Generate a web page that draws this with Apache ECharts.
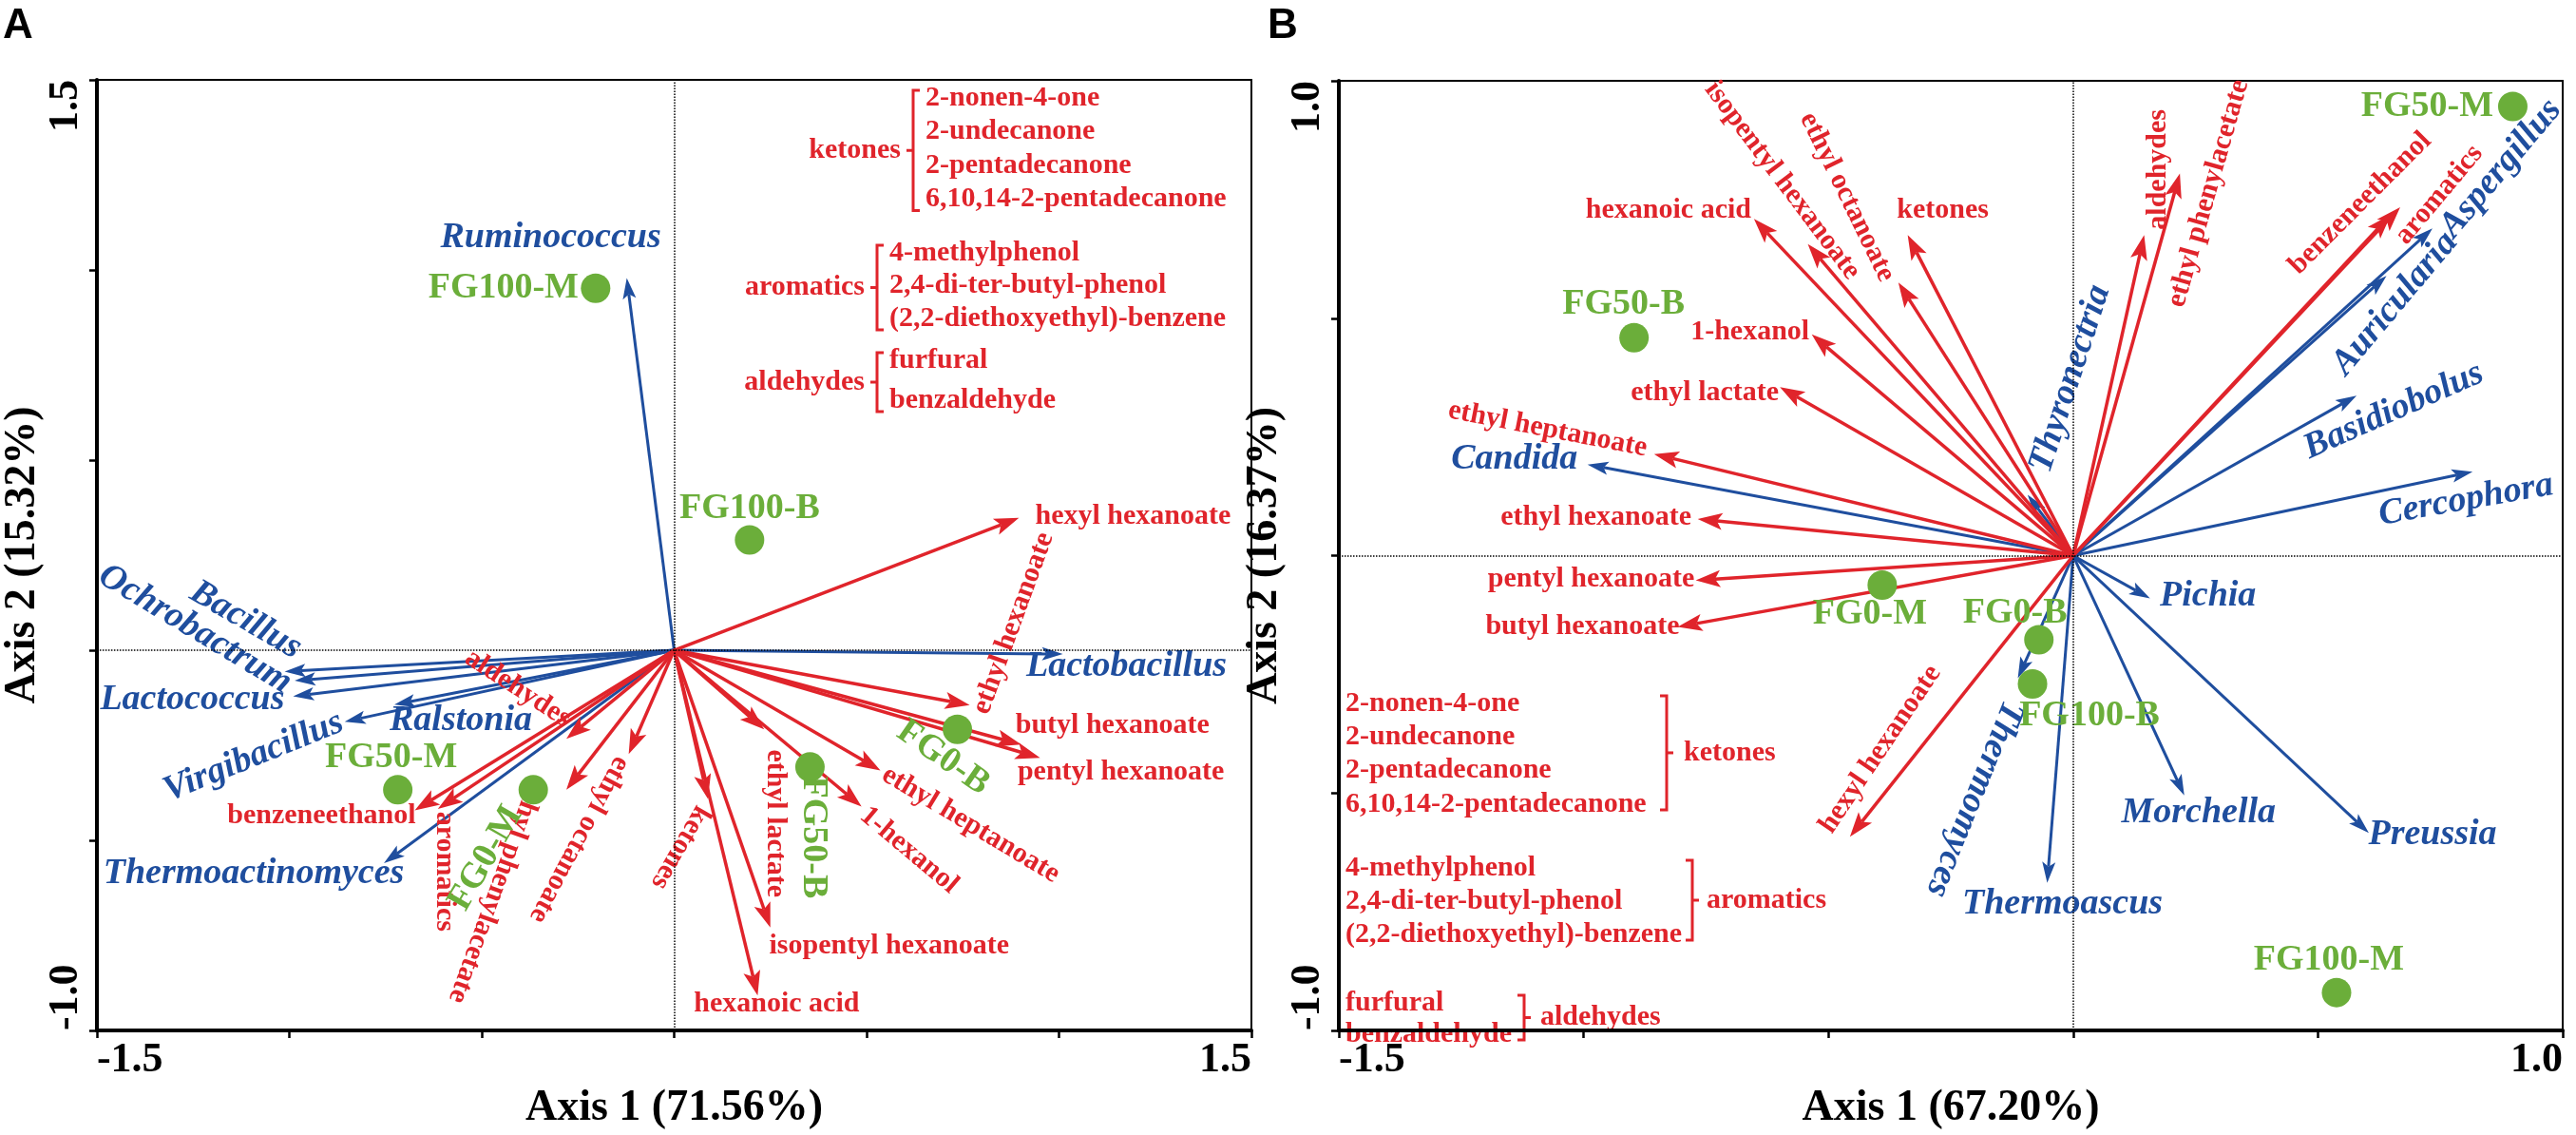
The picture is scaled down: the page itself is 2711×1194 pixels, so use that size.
<!DOCTYPE html>
<html><head><meta charset="utf-8">
<script src="https://cdn.jsdelivr.net/npm/echarts@6/dist/echarts.min.js"></script>
<style>html,body{margin:0;padding:0;background:#fff}#c{width:2711px;height:1194px}</style>
</head><body><div id="c"></div>
<script>
// ================= DATA =================
// ---- Panel A ----
const aAxisXName = 'Axis 1 (71.56%)';
const aAxisYName = 'Axis 2 (15.32%)';
const aTickX = ['-1.5', '1.5'];
const aTickY = ['-1.0', '1.5'];
const aBlueNames = ['Ruminococcus','Bacillus','Ochrobactrum','Lactococcus','Virgibacillus','Ralstonia','Thermoactinomyces','Lactobacillus'];
const aBlueX = [-0.123, -1.012, -0.986, -0.990, -0.856, -0.727, -0.754, 1.010];
const aBlueY = [0.979, -0.056, -0.080, -0.121, -0.188, -0.143, -0.560, -0.010];
const aRedNames = ['hexyl hexanoate','ethyl hexanoate','butyl hexanoate','pentyl hexanoate','ethyl heptanoate','1-hexanol','ethyl lactate','isopentyl hexanoate','hexanoic acid','ketones','ethyl octanoate','ethyl phenylacetate','aldehydes','aromatics','benzeneethanol'];
const aRedX = [0.896, 0.768, 0.902, 0.951, 0.536, 0.487, 0.234, 0.250, 0.217, 0.088, -0.118, -0.280, -0.280, -0.614, -0.674];
const aRedY = [0.348, -0.144, -0.248, -0.283, -0.316, -0.411, -0.208, -0.729, -0.908, -0.391, -0.273, -0.367, -0.233, -0.417, -0.421];
const aSiteNames = ['FG100-M','FG100-B','FG50-M','FG0-M','FG0-B','FG50-B'];
const aSiteX = [-0.204, 0.196, -0.718, -0.366, 0.736, 0.353];
const aSiteY = [0.952, 0.290, -0.367, -0.367, -0.208, -0.307];

// ---- Panel B ----
const bAxisXName = 'Axis 1 (67.20%)';
const bAxisYName = 'Axis 2 (16.37%)';
const bTickX = ['-1.5', '1.0'];
const bTickY = ['-1.0', '1.0'];
const bBlueNames = ['Candida','Thyronectria','Aspergillus','Auricularia','Basidiobolus','Cercophora','Pichia','Thermomyces','Thermoascus','Morchella','Preussia'];
const bBlueX = [-0.992, -0.093, 0.734, 0.640, 0.579, 0.816, 0.157, -0.113, -0.053, 0.227, 0.604];
const bBlueY = [0.192, 0.128, 0.689, 0.589, 0.337, 0.177, -0.090, -0.258, -0.689, -0.505, -0.584];
const bRedNames = ['hexanoic acid','isopentyl hexanoate','ethyl octanoate','ketones','1-hexanol','ethyl lactate','ethyl heptanoate','ethyl hexanoate','pentyl hexanoate','butyl hexanoate','hexyl hexanoate','aldehydes','ethyl phenylacetate','benzeneethanol','aromatics'];
const bRedX = [-0.652, -0.542, -0.357, -0.338, -0.534, -0.599, -0.856, -0.767, -0.771, -0.808, -0.456, 0.145, 0.218, 0.668, 0.649];
const bRedY = [0.709, 0.656, 0.575, 0.675, 0.466, 0.355, 0.214, 0.077, -0.052, -0.150, -0.592, 0.675, 0.805, 0.734, 0.718];
const bSiteNames = ['FG50-M','FG50-B','FG0-M','FG0-B','FG100-B','FG100-M'];
const bSiteX = [0.898, -0.897, -0.390, -0.070, -0.083, 0.538];
const bSiteY = [0.946, 0.459, -0.062, -0.177, -0.270, -0.920];

// ---- compound groups (annotation text) ----
const groupNames = ['ketones', 'aromatics', 'aldehydes'];
const ketoneItems = ['2-nonen-4-one', '2-undecanone', '2-pentadecanone', '6,10,14-2-pentadecanone'];
const aromaticItems = ['4-methylphenol', '2,4-di-ter-butyl-phenol', '(2,2-diethoxyethyl)-benzene'];
const aldehydeItems = ['furfural', 'benzaldehyde'];
const groupItems = [ketoneItems, aromaticItems, aldehydeItems];

// ================= LAYOUT / STYLE (not data) =================
// label placement relative to arrow tip / point: [dx px, dy px, rotation deg]
const aBlueLab = [[-80,-42,0],[-41,-54,-30],[-105,-54,-31],[-106,4,0],[-96,37,22],[70,17,0],[-137,11,0],[67,13,0]];
const aRedLab = [[120,-2,0],[46,-86,70],[96,-20,0],[85,15,0],[95,57,-31],[50,46,-40],[12,99,-90],[125,20,0],[20,9,0],[-29,51,-120],[-52,90,-118],[-74,107,-110],[-51,-53,-33],[7,66,-90],[-98,6,0]];
const aSiteLab = [[-97,0,0],[0,-33,0],[-7,-34,0],[-50,72,60],[-15,30,-35],[3,74,-90]];
const bBlueLab = [[-77,-5,0],[45,-122,72],[72,-63,50],[9,29,50],[39,16,24],[-7,30,10],[61,-2,0],[-46,127,-112],[16,22,0],[15,18,0],[67,2,0]];
const bRedLab = [[-90,-9,0],[-27,-67,-53],[-54,-90,-64],[37,-26,0],[-65,-3,0],[-79,6,0],[-112,-26,-11],[-107,-2,0],[-110,-1,0],[-100,0,0],[32,-92,56],[15,-69,90],[30,21,74],[-42,-4,45],[51,-21,50]];
const bSiteLab = [[-90,0,0],[-11,-35,0],[-13,31,0],[-25,-28,0],[60,34,0],[-8,-34,0]];
// legend blocks: [itemX, firstItemY, lineStep, bracketX, groupLabelX]
const legLayoutA = [[974,103,35.5,961,948],[936,266,34.5,923,910],[936,379,42,923,910]];
const legLayoutB = [[1416,740,35.3,1754,1772],[1416,913,35,1781,1796],[1416,1055,33,1604,1621]];

const SERIF = '"Liberation Serif", "Times New Roman", serif';
const RED = '#E0242B', BLUE = '#1F4E9E', GREEN = '#6BAE3A';
const fRed = 'bold 30px ' + SERIF;
const fBlue = 'italic bold 38px ' + SERIF;
const fGreen = 'bold 38px ' + SERIF;

// ================= BUILDERS =================
function arrowSeries(gi, names, xs, ys, lab, color, lw, headLen, headW, font, z) {
  return {
    type: 'custom', xAxisIndex: gi, yAxisIndex: gi, z: z, clip: false, silent: true,
    data: names.map((n, i) => [xs[i], ys[i]]),
    renderItem: function (params, api) {
      const i = params.dataIndex;
      const o = api.coord([0, 0]);
      const p = api.coord([api.value(0), api.value(1)]);
      const dx = p[0] - o[0], dy = p[1] - o[1];
      const L = Math.hypot(dx, dy) || 1;
      const ux = dx / L, uy = dy / L, nx = -uy, ny = ux;
      const bx = p[0] - ux * headLen, by = p[1] - uy * headLen;
      const notch = headLen * 0.22;
      const mx = bx + ux * notch, my = by + uy * notch;
      const l = lab[i];
      return {
        type: 'group', children: [
          { type: 'line', shape: { x1: o[0], y1: o[1], x2: mx, y2: my }, style: { stroke: color, lineWidth: lw } },
          { type: 'polygon', shape: { points: [[p[0], p[1]], [bx + nx * headW, by + ny * headW], [mx, my], [bx - nx * headW, by - ny * headW]] }, style: { fill: color } },
          { type: 'text', x: p[0] + l[0], y: p[1] + l[1], rotation: l[2] * Math.PI / 180,
            style: { text: names[i], font: font, fill: color, align: 'center', verticalAlign: 'middle' } }
        ]
      };
    }
  };
}
function siteSeries(gi, names, xs, ys, lab, z) {
  return {
    type: 'custom', xAxisIndex: gi, yAxisIndex: gi, z: z, clip: false, silent: true,
    data: names.map((n, i) => [xs[i], ys[i]]),
    renderItem: function (params, api) {
      const i = params.dataIndex;
      const p = api.coord([api.value(0), api.value(1)]);
      const l = lab[i];
      return {
        type: 'group', children: [
          { type: 'circle', shape: { cx: p[0], cy: p[1], r: 15.5 }, style: { fill: GREEN } },
          { type: 'text', x: p[0] + l[0], y: p[1] + l[1], rotation: l[2] * Math.PI / 180,
            style: { text: names[i], font: fGreen, fill: GREEN, align: 'center', verticalAlign: 'middle' } }
        ]
      };
    }
  };
}
function refLines(gi) {
  return {
    type: 'scatter', xAxisIndex: gi, yAxisIndex: gi, data: [[0, 0]], symbolSize: 0, silent: true, z: 1,
    markLine: { silent: true, symbol: 'none', label: { show: false }, animation: false,
      lineStyle: { type: 'dotted', color: '#000', width: 1.5 },
      data: [{ xAxis: 0 }, { yAxis: 0 }] }
  };
}
function axis(gi, min, max, ticks, name, isY, nameGap) {
  return {
    gridIndex: gi, type: 'value', min: min, max: max, interval: 0.5,
    name: name, nameLocation: 'middle', nameGap: nameGap, nameRotate: isY ? 90 : 0,
    nameTextStyle: { fontFamily: SERIF, fontWeight: 'bold', fontSize: 46, color: '#000' },
    axisLine: { show: true, onZero: false, lineStyle: { color: '#000', width: 4 } },
    axisTick: { show: true, length: 8, lineStyle: { color: '#000', width: 2.5 } },
    splitLine: { show: false },
    axisLabel: {
      show: true, showMinLabel: true, showMaxLabel: true, rotate: isY ? 90 : 0, margin: 10,
      fontFamily: SERIF, fontWeight: 'bold', fontSize: 44, color: '#000',
      alignMinLabel: 'left', alignMaxLabel: 'right',
      formatter: function (v) {
        if (Math.abs(v - min) < 1e-9) return ticks[0];
        if (Math.abs(v - max) < 1e-9) return ticks[1];
        return '';
      }
    }
  };
}
function legendGraphics(layout, side) {
  const els = [];
  groupItems.forEach(function (items, g) {
    const [ix, y0, step, bx, lx] = layout[g];
    items.forEach(function (t, k) {
      els.push({ type: 'text', x: ix, y: y0 + k * step, silent: true,
        style: { text: t, font: fRed, fill: RED, align: 'left', verticalAlign: 'middle' } });
    });
    const yLast = y0 + (items.length - 1) * step;
    const yt = y0 - 8, yb = yLast + (side === 'left' ? 12 : 6), ym = (yt + yb) / 2;
    const s = side === 'left' ? 1 : -1;
    const pts = [[bx + 7 * s, yt], [bx, yt], [bx, yb], [bx + 7 * s, yb]];
    els.push({ type: 'polyline', silent: true, shape: { points: pts }, style: { stroke: RED, lineWidth: 3, fill: null } });
    els.push({ type: 'line', silent: true, shape: { x1: bx, y1: ym, x2: bx - 7 * s, y2: ym }, style: { stroke: RED, lineWidth: 3 } });
    els.push({ type: 'text', x: lx, y: ym, silent: true,
      style: { text: groupNames[g], font: fRed, fill: RED, align: side === 'left' ? 'right' : 'left', verticalAlign: 'middle' } });
  });
  return els;
}

// ================= OPTION =================
const option = {
  animation: false,
  backgroundColor: '#fff',
  grid: [
    { left: 74, top: 84, width: 1243, height: 1035, show: true, borderColor: '#000', borderWidth: 2, containLabel: false },
    { left: 1409, top: 85, width: 1288, height: 1031, show: true, borderColor: '#000', borderWidth: 2, containLabel: false }
  ],
  xAxis: [
    axis(0, -1.5, 1.5, aTickX, aAxisXName, false, 16),
    axis(1, -1.5, 1.0, bTickX, bAxisXName, false, 16)
  ],
  yAxis: [
    axis(0, -1.0, 1.5, aTickY, aAxisYName, true, 24),
    axis(1, -1.0, 1.0, bTickY, bAxisYName, true, 26)
  ],
  graphic: {
    elements: [
      { type: 'text', x: 3, y: 6, style: { text: 'A', font: 'bold 44px "Liberation Sans", Arial, sans-serif', fill: '#000', align: 'left', verticalAlign: 'top' } },
      { type: 'text', x: 1334, y: 6, style: { text: 'B', font: 'bold 44px "Liberation Sans", Arial, sans-serif', fill: '#000', align: 'left', verticalAlign: 'top' } }
    ].concat(legendGraphics(legLayoutA, 'left'), legendGraphics(legLayoutB, 'right'))
  },
  series: [
    refLines(0),
    refLines(1),
    arrowSeries(0, aBlueNames, aBlueX, aBlueY, aBlueLab, BLUE, 3, 22, 7, fBlue, 2),
    arrowSeries(0, aRedNames, aRedX, aRedY, aRedLab, RED, 3.5, 26, 9, fRed, 3),
    siteSeries(0, aSiteNames, aSiteX, aSiteY, aSiteLab, 4),
    arrowSeries(1, bBlueNames, bBlueX, bBlueY, bBlueLab, BLUE, 3, 22, 7, fBlue, 2),
    arrowSeries(1, bRedNames, bRedX, bRedY, bRedLab, RED, 3.5, 26, 9, fRed, 3),
    siteSeries(1, bSiteNames, bSiteX, bSiteY, bSiteLab, 4)
  ]
};
const chart = echarts.init(document.getElementById('c'), null, { renderer: 'canvas' });
chart.setOption(option);
</script>
</body></html>
